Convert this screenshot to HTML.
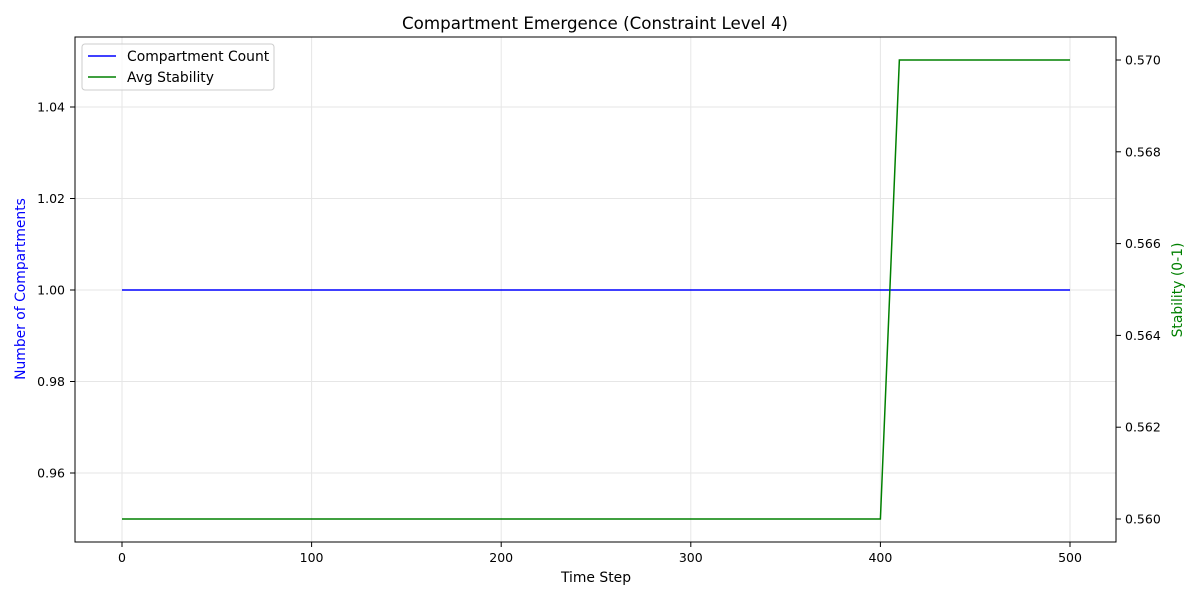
<!DOCTYPE html>
<html><head><meta charset="utf-8"><style>
body{margin:0;background:#fff;font-family:"DejaVu Sans","Liberation Sans",sans-serif;}
svg text{font-family:"DejaVu Sans","Liberation Sans",sans-serif;}
</style></head><body>
<svg id="chart" width="1200" height="600"></svg>
<script>
const steps = [0,10,20,30,40,50,60,70,80,90,100,110,120,130,140,150,160,170,180,190,200,210,220,230,240,250,260,270,280,290,300,310,320,330,340,350,360,370,380,390,400,410,420,430,440,450,460,470,480,490,500];
const compartmentCount = steps.map(()=>1);
const avgStability = steps.map(s=> s<=400 ? 0.56 : 0.57);
const xTicks = [0,100,200,300,400,500];
const yLeftTicks = [0.96,0.98,1.00,1.02,1.04];
const yRightTicks = [0.560,0.562,0.564,0.566,0.568,0.570];

const L=75,R=1116,T=37,B=542;
const x = v => 122 + (v-0)*(1070-122)/500;
const yL = v => 290 - (v-1.0)*(91.5/0.02);
const yR = v => 519 - (v-0.560)*(459/0.010);
const svg=document.getElementById('chart');
const NS='http://www.w3.org/2000/svg';
function mk(tag,attrs,parent){const e=document.createElementNS(NS,tag);for(const k in attrs)e.setAttribute(k,attrs[k]);(parent||svg).appendChild(e);return e;}

xTicks.forEach(v=>{const g=mk('line',{x1:x(v),x2:x(v),y1:T,y2:B,stroke:'#e6e6e6','stroke-width':1});

});
yLeftTicks.forEach(v=>{const g=mk('line',{x1:L,x2:R,y1:yL(v),y2:yL(v),stroke:'#e6e6e6','stroke-width':1});

});

const p1=mk('polyline',{points:steps.map((s,i)=>x(s)+','+yL(compartmentCount[i])).join(' '),fill:'none',stroke:'#0000ff','stroke-width':1.5});


const p2=mk('polyline',{points:steps.map((s,i)=>x(s)+','+yR(avgStability[i])).join(' '),fill:'none',stroke:'#008000','stroke-width':1.5});



const fr=mk('rect',{x:L,y:T,width:R-L,height:B-T,fill:'none',stroke:'#000','stroke-width':1});



xTicks.forEach(v=>{mk('line',{x1:x(v),x2:x(v),y1:B,y2:B+5,stroke:'#000'});
const t=mk('text',{x:x(v),y:B+20,'text-anchor':'middle','font-size':12.5});t.textContent=v;

});
yLeftTicks.forEach(v=>{mk('line',{x1:L-5,x2:L,y1:yL(v),y2:yL(v),stroke:'#000'});
const t=mk('text',{x:L-10,y:yL(v)+4.5,'text-anchor':'end','font-size':12.5});t.textContent=v.toFixed(2);

});
yRightTicks.forEach(v=>{mk('line',{x1:R,x2:R+5,y1:yR(v),y2:yR(v),stroke:'#000'});
const t=mk('text',{x:R+9,y:yR(v)+4.5,'text-anchor':'start','font-size':12.5});t.textContent=v.toFixed(3);

});
</script>
<svg width="1200" height="600" style="position:absolute;left:0;top:0">
<text x="595" y="29" text-anchor="middle" font-size="16.7">Compartment Emergence (Constraint Level 4)</text>
<text x="596" y="582" text-anchor="middle" font-size="13.9">Time Step</text>
<text transform="translate(25,289) rotate(-90)" text-anchor="middle" font-size="13.9" fill="#0000ff">Number of Compartments</text>
<text transform="translate(1182,290) rotate(-90)" text-anchor="middle" font-size="13.9" fill="#008000">Stability (0-1)</text>
<g>
<rect x="82" y="44" width="192" height="46" rx="3" fill="#fff" fill-opacity="0.8" stroke="#ccc"/>
<line x1="88" x2="116" y1="56" y2="56" stroke="#0000ff" stroke-width="1.5"/>
<text x="127" y="61" font-size="13.9">Compartment Count</text>
<line x1="88" x2="116" y1="77" y2="77" stroke="#008000" stroke-width="1.5"/>
<text x="127" y="82" font-size="13.9">Avg Stability</text>
</g>
</svg>
</body></html>
